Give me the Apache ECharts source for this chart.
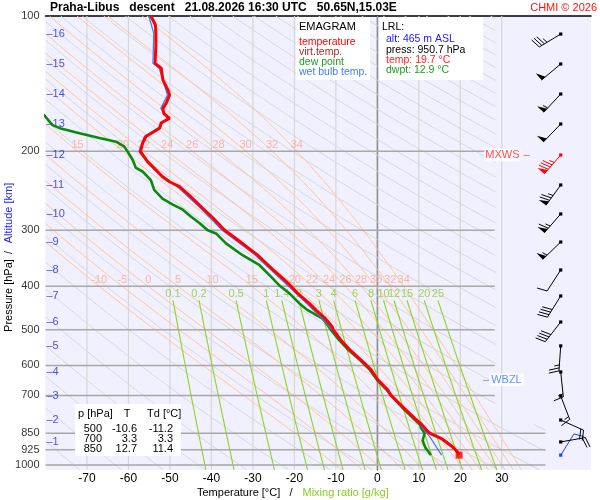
<!DOCTYPE html>
<html><head><meta charset="utf-8">
<script src="https://cdn.jsdelivr.net/npm/echarts@6/dist/echarts.min.js"></script>
<style>html,body{margin:0;padding:0;background:#fff}#c{width:600px;height:500px}</style>
</head><body><div id="c"></div>
<script>
// ---------------- data ----------------
const tempP = [100,104.7,109.3,117,127.5,130.7,138.8,146.1,150,156.3,160.6,164.7,169.1,172.9,177.9,180.9,185.6,192,200.5,211,220,228,234,240,253,268,282,300,315,340,367,390,400,414.6,436.6,452,471,492,500,527,553,584,614,646,680,700,750,788,814,843,850,875,911,935,950.7];
const tempT = [-54.6,-53.5,-53.4,-53.4,-53.6,-52.1,-51.7,-50.5,-50.1,-50.9,-51.7,-51.5,-50.1,-52.1,-52.5,-53.8,-55.8,-56.6,-57.1,-55.4,-53.4,-51.8,-50.1,-47.7,-44.9,-42.1,-39.6,-36.8,-33.7,-29.0,-25.2,-22.0,-20.8,-19.2,-16.4,-14.8,-12.6,-10.9,-10.6,-8.8,-6.75,-3.9,-1.5,0.1,2.5,3.3,6.6,9.1,10.8,12.2,12.7,15.6,18.1,19.3,19.7];

const dewP = [165.5,175,178,182.5,187,190.5,195.5,200.5,209,218,222,232,244,255,263,270,280,289,300,305,321,341,359,381,400,414.6,436.6,452,471,479,500,527,553,584,614,646,680,700,750,788,814,826,850,882,916,939,950.7];
const dewT = [-80.5,-78.3,-76.3,-71.8,-67,-63,-61,-60.2,-59,-58.2,-56.6,-54.6,-53.8,-51.8,-49.3,-46.9,-44.9,-42.9,-40.9,-38.9,-36.5,-32.5,-28.4,-25.6,-23.4,-21.2,-18.8,-16.8,-13.4,-12.6,-11.2,-9.2,-7.1,-4.2,-1.8,-0.1,2.2,3.3,6.3,8.7,10.3,10.5,11.4,10.9,11.6,12.5,12.9];

const wetP = [100,109.3,127.5,130.7,146.1,150,160.6,169.1,177.9,185.6,200.5,220,240,268,300,340,390,429,467,500,553,614,646,700,750,788,814,830,850,875,911,950.7];
const wetT = [-55.1,-53.9,-54.1,-52.6,-51.0,-50.6,-52.2,-50.6,-53.0,-56.2,-57.5,-53.8,-48.2,-42.6,-37.4,-29.6,-22.7,-17.9,-13.8,-10.9,-6.95,-1.6,0.0,3.3,6.4,8.9,10.5,11.0,12.0,13.0,14.2,15.5];

const altKm = [1,2,3,4,5,6,7,8,9,10,11,12,13,14,15,16];
const altP  = [888.5,794,702,620.6,543,480.3,420.3,367.9,318.7,276,237.9,204,174,149.2,127.9,109.7];

const windP   = [950.7,888.5,794,702,620.6,543,480.3,420.3,367.9,318.7,276,237.9,204,174,149.2,127.9,109.7];
const windDir = [32,80,114,159,174,184,218,212,213,226,221,216,221,224,223,230,239];
const windSpd = [10,20,20,15,15,25,40,40,10,55,65,75,85,50,55,50,35];

const wbzlP = 646;

const tableP  = [500,700,850];
const tableT  = [-10.6,3.3,12.7];
const tableTd = [-11.2,3.3,11.4];

const lrlAlt = 465, lrlPress = 950.7, lrlTemp = 19.7, lrlDwpt = 12.9;

const pressureTicks = [100,200,300,400,500,600,700,850,925,1000];
const isobarLevels  = [200,300,400,500,600,700,850,925,1000];
const tempTicks     = [-70,-60,-50,-40,-30,-20,-10,0,10,20,30];
const dryTheta  = [190,200,210,220,230,240,250,260,270,280,290,300,310,320,330,340,350,360,370,380,390,400,410,420,430,440,450,460,470,480,490,500,510,520,530,540,550,560,570,580,590,600];
const moistThetaW = [-10,-5,0,5,10,15,20,22,24,26,28,30,32,34];
const mixRatios = [0.1,0.2,0.5,1,1.4,2,3,4,6,8,10,12,15,20,25];

// ---------------- layout / style constants ----------------
const FONT = '"Liberation Sans", Arial, sans-serif';
const P_TOP = 100, P_BOT = 1025, T_MIN = -80, T_MAX = 51.5;
const BARB_T = 44.2;
const C_BG = '#f0f0ff', C_DRY = '#d6d6d6', C_MOIST = '#ffc58c', C_MIX = '#8fd41c',
      C_ISOBAR = '#a8a8a8', C_ISOTH = '#d6d6d6', C_ISOTH0 = '#969696';

// ---------------- thermodynamic reference lines ----------------
const NS = 400;
const PS = [];
for (let i = 0; i <= NS; i++) PS.push(P_TOP * Math.pow(P_BOT / P_TOP, i / NS));

function lim(T, p) { return Math.min((p >= 810 ? 40.5 : 28.5) - T, T - T_MIN); }
function clipSegs(pts) {
  const segs = []; let cur = [];
  for (let i = 0; i < pts.length; i++) {
    const T = pts[i][0], p = pts[i][1], v = lim(T, p);
    if (i > 0) {
      const T0 = pts[i-1][0], p0 = pts[i-1][1], v0 = lim(T0, p0);
      if ((v0 >= 0) !== (v >= 0)) {
        const t = v0 / (v0 - v);
        const ip = [T0 + (T - T0) * t, p0 + (p - p0) * t];
        if (v0 >= 0) { cur.push(ip); if (cur.length > 1) segs.push(cur); cur = []; }
        else { cur = [ip]; }
      }
    }
    if (v >= 0) cur.push([T, p]);
  }
  if (cur.length > 1) segs.push(cur);
  return segs;
}

function dTdlnp(T, p) {
  const Rd = 287.04, cp = 1005.7, Lv = 2.501e6, eps = 0.622;
  const tc = T - 273.15;
  const es = 6.112 * Math.exp(17.67 * tc / (tc + 243.5));
  const rs = eps * es / (p - es);
  return (Rd * T + Lv * rs) / (cp + Lv * Lv * rs * eps / (Rd * T * T));
}
function rk4(T, p, q) {
  const x0 = Math.log(p), h = Math.log(q) - x0;
  const g = (TT, x) => dTdlnp(TT, Math.exp(x));
  const k1 = g(T, x0), k2 = g(T + h * k1 / 2, x0 + h / 2), k3 = g(T + h * k2 / 2, x0 + h / 2), k4 = g(T + h * k3, x0 + h);
  return T + h * (k1 + 2 * k2 + 2 * k3 + k4) / 6;
}
function moistLine(thw) {
  const out = [];
  let T = thw + 273.15, p = 1000;
  const up = PS.filter(q => q < 1000).reverse();
  for (const q of up) { T = rk4(T, p, q); p = q; out.push([T - 273.15, q]); }
  out.reverse();
  out.push([thw, 1000]);
  T = thw + 273.15; p = 1000;
  for (const q of PS.filter(q => q > 1000)) { T = rk4(T, p, q); p = q; out.push([T - 273.15, q]); }
  return out;
}
function interpT(pts, p) {
  for (let i = 1; i < pts.length; i++) {
    if (pts[i][1] >= p) {
      const a = pts[i-1], b = pts[i];
      const t = (Math.log(p) - Math.log(a[1])) / (Math.log(b[1]) - Math.log(a[1]));
      return a[0] + (b[0] - a[0]) * t;
    }
  }
  return pts[pts.length - 1][0];
}
function mixT(w, p) {
  const e = w * p / (622 + w);
  const l = Math.log(e / 6.112);
  return 243.5 * l / (17.67 - l);
}

const dryData = [];
dryTheta.forEach(th => {
  clipSegs(PS.map(p => [th * Math.pow(p / 1000, 0.2857) - 273.15, p])).forEach(s => dryData.push({coords: s}));
});

const moistData = [], moistLabels = [];
moistThetaW.forEach(thw => {
  const pts = moistLine(thw);
  clipSegs(pts).forEach(s => moistData.push({coords: s}));
  const t400 = interpT(pts, 400);
  moistLabels.push([t400, 387, thw]);
  const t200 = interpT(pts, 200);
  if (t200 > -78) moistLabels.push([t200, 194, thw]);
});

const mixData = [], mixLabels = [];
mixRatios.forEach(w => {
  const ps = [430].concat(PS.filter(p => p > 430));
  clipSegs(ps.map(p => [mixT(w, p), p])).forEach(s => mixData.push({coords: s}));
  mixLabels.push([mixT(w, 430), 416, w]);
});

const isothermData = tempTicks.map(t => ({
  coords: [[t, P_TOP], [t, P_BOT]],
  lineStyle: {color: t === 0 ? C_ISOTH0 : C_ISOTH, width: t === 0 ? 1.2 : 1.2}
}));
const isobarData = isobarLevels.map(p => ({coords: [[T_MIN, p], [p >= 810 ? 40.5 : 28.3, p]]}));

let maxIdx = 0;
windSpd.forEach((s, i) => { if (s > windSpd[maxIdx]) maxIdx = i; });

// ---------------- wind barbs ----------------
function renderBarb(params, api) {
  const s = api.coord([api.value(0), api.value(1)]);
  const dir = api.value(2) * Math.PI / 180, spd = api.value(3), kind = api.value(4);
  const col = kind === 1 ? '#ff0000' : (kind === 2 ? '#1844ff' : '#000000');
  const d = [Math.sin(dir), -Math.cos(dir)], n = [-d[1], d[0]];
  const L = 25, tip = [s[0] + d[0] * L, s[1] + d[1] * L];
  const at = a => [tip[0] - d[0] * a, tip[1] - d[1] * a];
  const ch = [{type: 'line', shape: {x1: s[0], y1: s[1], x2: tip[0], y2: tip[1]}, style: {stroke: col, lineWidth: 1}}];
  let r = Math.round(spd / 5) * 5, a = 0;
  while (r >= 50) {
    const A = at(a), B = at(a + 5);
    ch.push({type: 'polygon', shape: {points: [A, [A[0] + n[0] * 9, A[1] + n[1] * 9], B]}, style: {fill: col}});
    a += 6; r -= 50;
  }
  while (r >= 10) {
    const P = at(a);
    ch.push({type: 'line', shape: {x1: P[0], y1: P[1], x2: P[0] + n[0] * 10 + d[0] * 3, y2: P[1] + n[1] * 10 + d[1] * 3}, style: {stroke: col, lineWidth: 1}});
    a += 3; r -= 10;
  }
  if (r >= 5) {
    if (a === 0) a = 3;
    const P = at(a);
    ch.push({type: 'line', shape: {x1: P[0], y1: P[1], x2: P[0] + n[0] * 5 + d[0] * 1.5, y2: P[1] + n[1] * 5 + d[1] * 1.5}, style: {stroke: col, lineWidth: 1}});
  }
  ch.push({type: 'rect', shape: {x: s[0] - 1.6, y: s[1] - 1.6, width: 3.2, height: 3.2}, style: {fill: col}});
  return {type: 'group', children: ch};
}

// ---------------- option ----------------
const labelScatter = (data, label, z) => ({
  type: 'scatter', data: data, symbolSize: 0, silent: true, clip: false, z: z || 6,
  label: Object.assign({show: true, fontFamily: FONT}, label)
});
const lineSeries = (data, color, width, z) => ({
  type: 'lines', coordinateSystem: 'cartesian2d', polyline: true, silent: true, z: z,
  data: data, lineStyle: {color: color, width: width, opacity: 1}
});

function gtext(x, y, text, color, size, extra) {
  return Object.assign({
    type: 'text', x: x, y: y, z: 101,
    style: Object.assign({text: text, fill: color, font: size + 'px ' + FONT,
      align: 'left', verticalAlign: 'middle', textAlign: 'left', textVerticalAlign: 'middle'}, (extra && extra.style) || {})
  }, extra ? {rotation: extra.rotation || 0} : {});
}
function grect(x, y, w, h) {
  return {type: 'rect', z: 100, shape: {x: x, y: y, width: w, height: h}, style: {fill: '#ffffff'}};
}
const fmt1 = v => v.toFixed(1);

const graphic = [
  gtext(50, 8, 'Praha-Libus   descent   21.08.2026 16:30 UTC   50.65N,15.03E', '#000', 12, {style: {font: 'bold 12px ' + FONT}}),
  gtext(597, 8, 'CHMI © 2026', '#ff1010', 11, {style: {align: 'right', textAlign: 'right'}}),
  grect(296, 17, 74, 63),
  gtext(299, 27, 'EMAGRAM', '#000', 11),
  gtext(299, 42.5, 'temperature', '#ff0000', 10.5),
  gtext(299, 52.5, 'virt.temp.', '#a02828', 10.5),
  gtext(299, 62.5, 'dew point', '#1c9c1c', 10.5),
  gtext(299, 72.5, 'wet bulb temp.', '#3a7cff', 10.5),
  grect(379, 17, 104, 63),
  gtext(382, 27.5, 'LRL:', '#000', 10.5),
  gtext(386, 39.5, 'alt: ' + lrlAlt + ' m ASL', '#2020ff', 10.5),
  gtext(386, 50, 'press: ' + fmt1(lrlPress) + ' hPa', '#000', 10.5),
  gtext(386, 60, 'temp: ' + fmt1(lrlTemp) + ' °C', '#ff2020', 10.5),
  gtext(386, 70, 'dwpt: ' + fmt1(lrlDwpt) + ' °C', '#1c9c1c', 10.5),
  grect(75, 404, 106, 52),
  gtext(78, 414, 'p [hPa]', '#000', 11),
  gtext(127, 414, 'T', '#000', 11, {style: {align: 'center', textAlign: 'center'}}),
  gtext(147, 414, 'Td [°C]', '#000', 11),
  gtext(197, 493, 'Temperature [°C]   /   ', '#000', 11),
  gtext(302.5, 493, 'Mixing ratio [g/kg]', '#88cc22', 11),
  gtext(8.5, 295.5, 'Pressure [hPa]', '#000', 11, {rotation: Math.PI / 2, style: {align: 'center', textAlign: 'center'}}),
  gtext(8.5, 252.5, '/', '#000', 11, {rotation: Math.PI / 2, style: {align: 'center', textAlign: 'center'}}),
  gtext(8.5, 213, 'Altitude [km]', '#2424e0', 11, {rotation: Math.PI / 2, style: {align: 'center', textAlign: 'center'}})
];
tableP.forEach((p, i) => {
  const y = 428.5 + i * 10;
  graphic.push(gtext(102, y, String(p), '#000', 11, {style: {align: 'right', textAlign: 'right'}}));
  graphic.push(gtext(137, y, fmt1(tableT[i]), '#000', 11, {style: {align: 'right', textAlign: 'right'}}));
  graphic.push(gtext(173, y, fmt1(tableTd[i]), '#000', 11, {style: {align: 'right', textAlign: 'right'}}));
});

const option = {
  animation: false,
  backgroundColor: '#ffffff',
  textStyle: {fontFamily: FONT},
  grid: {left: 45.5, right: 9, top: 16, bottom: 30.2, show: true, backgroundColor: C_BG, borderWidth: 0},
  xAxis: [
    {type: 'value', min: T_MIN, max: T_MAX, interval: 10,
     axisLine: {show: false}, axisTick: {show: false}, splitLine: {show: false},
     axisLabel: {fontSize: 12, color: '#000', margin: 3, fontFamily: FONT,
       formatter: v => tempTicks.indexOf(Math.round(v)) >= 0 ? String(Math.round(v)) : ''}},
    {type: 'value', position: 'top', min: T_MIN, max: T_MAX,
     axisLine: {show: true, onZero: false, lineStyle: {color: '#000', width: 1.5}},
     axisTick: {show: false}, axisLabel: {show: false}, splitLine: {show: false}}
  ],
  yAxis: {type: 'log', logBase: 10, min: P_TOP, max: P_BOT, inverse: true,
    axisLine: {show: true, lineStyle: {color: '#000', width: 1.2}},
    axisTick: {show: false}, axisLabel: {show: false}, splitLine: {show: false}},
  series: [
    {type: 'lines', coordinateSystem: 'cartesian2d', polyline: true, silent: true, z: 1, data: isothermData, lineStyle: {color: C_ISOTH, width: 1.2, opacity: 1}},
    lineSeries(dryData, C_DRY, 1, 2),
    lineSeries(moistData, C_MOIST, 1, 3),
    lineSeries(mixData, C_MIX, 1.1, 4),
    lineSeries(isobarData, C_ISOBAR, 1.5, 5),
    labelScatter(moistLabels, {position: 'inside', color: '#ffa688', fontSize: 11, formatter: d => String(d.value[2])}),
    labelScatter(mixLabels, {position: 'inside', color: '#8ccc2c', fontSize: 11, formatter: d => String(d.value[2])}),
    labelScatter(pressureTicks.map(p => [T_MIN, p]), {position: 'left', distance: 6, color: '#000', fontSize: 11, formatter: d => String(d.value[1])}),
    labelScatter(altP.map((p, i) => [T_MIN, p, altKm[i]]), {position: 'right', distance: 1, color: '#2424e0', fontSize: 11, formatter: d => '\u2013' + d.value[2]}),
    {type: 'line', data: dewP.map((p, i) => [dewT[i], p]), showSymbol: false, silent: true, z: 8, lineStyle: {color: '#0a8a0a', width: 2.6}},
    {type: 'line', data: wetP.map((p, i) => [wetT[i], p]), showSymbol: false, silent: true, z: 9, lineStyle: {color: '#3a78ff', width: 1.2}},
    {type: 'line', data: tempP.map((p, i) => [tempT[i], p]), showSymbol: false, silent: true, z: 10, lineStyle: {color: '#ff0000', width: 3}},
    {type: 'scatter', data: [[lrlTemp, lrlPress]], symbol: 'rect', symbolSize: 7, silent: true, z: 11, itemStyle: {color: '#ff0000'}},
    {type: 'custom', coordinateSystem: 'cartesian2d', renderItem: renderBarb, silent: true, clip: false, z: 20,
     encode: {x: 0, y: 1},
     data: windP.map((p, i) => [BARB_T, p, windDir[i], windSpd[i], i === 0 ? 2 : (i === maxIdx ? 1 : 0)])},
    labelScatter([[BARB_T, windP[maxIdx]]], {position: 'left', distance: 31, fontSize: 11, color: '#ff2020',
      formatter: '{t|MXWS}{d| \u2013}', rich: {t: {backgroundColor: '#ffffff', color: '#ff2020', fontSize: 11, padding: [1, 1]}, d: {color: '#ff2020', fontSize: 11}}}, 21),
    labelScatter([[BARB_T, wbzlP]], {position: 'left', distance: 37, fontSize: 11, color: '#3a78ff',
      formatter: '{d|\u2013}{t|WBZL}', rich: {t: {backgroundColor: '#ffffff', color: '#3a78ff', fontSize: 11, padding: [1, 2]}, d: {color: '#3a78ff', fontSize: 11}}}, 21)
  ],
  graphic: graphic
};

const chart = echarts.init(document.getElementById('c'));
chart.setOption(option);
</script>
</body></html>
